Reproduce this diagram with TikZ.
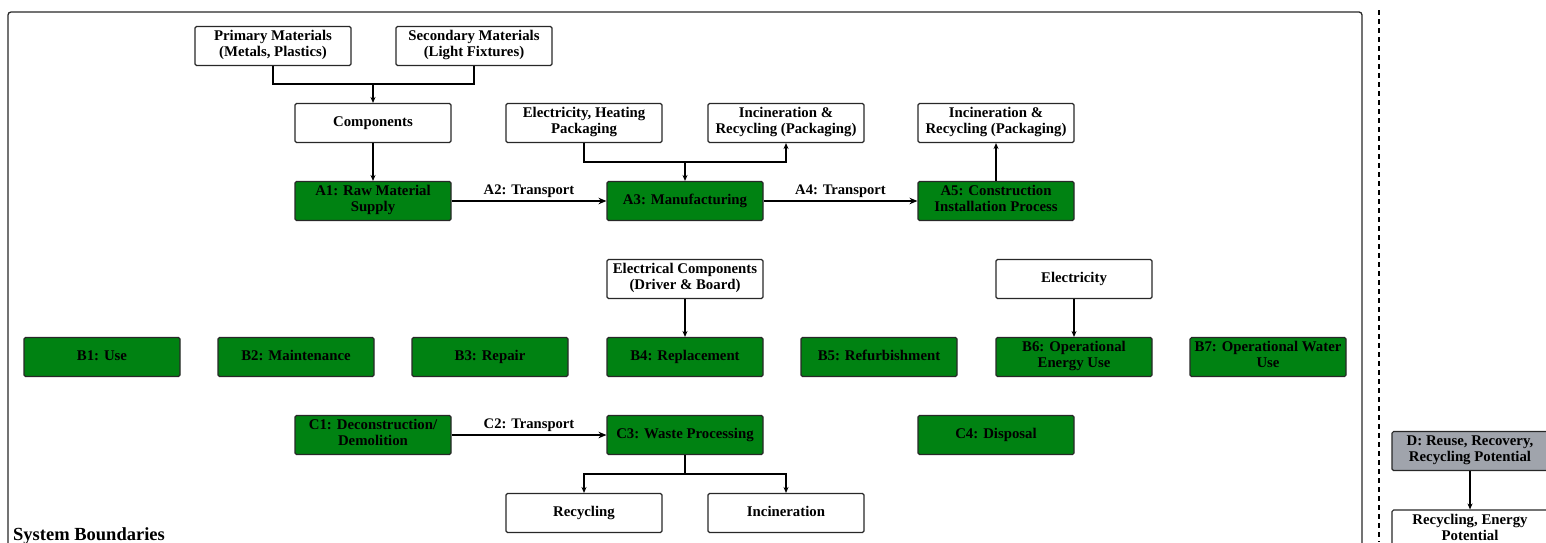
\documentclass[tikz,border=0pt]{standalone}
\usepackage{fontspec}
\setmainfont{Liberation Serif}
\usetikzlibrary{arrows.meta}
\definecolor{boxgreen}{RGB}{0,130,18}
\definecolor{boxgray}{RGB}{160,164,172}
\definecolor{edge}{RGB}{40,40,40}
\tikzset{
  base/.style={draw=edge, line width=1.1pt, rounded corners=1.5pt, minimum width=156pt, minimum height=39pt,
    align=center, inner sep=1pt, font=\fontsize{14.8}{16.5}\selectfont\bfseries,
    execute at begin node=\strut, execute at end node=\strut},
  whitebox/.style={base, fill=white},
  greenbox/.style={base, fill=boxgreen},
  graybox/.style={base, fill=boxgray},
  conn/.style={draw=black, line width=1.4pt},
  arr/.style={conn, -{Stealth[length=6pt,width=5pt]}},
  thickarr/.style={draw=black, line width=2.2pt, -{Stealth[length=8pt,width=6.5pt]}},
  lbl/.style={font=\fontsize{14.6}{16}\selectfont\bfseries, inner sep=1pt}
}
\begin{document}
\begin{tikzpicture}[x=1pt,y=-1pt]
\useasboundingbox (0,0) rectangle (1546,542);
\clip (0,0) rectangle (1546,542);
\fill[white] (0,0) rectangle (1546,542);
% system boundary
\draw[draw=edge, line width=1.3pt, rounded corners=3pt] (8,12) rectangle (1362,570);
\node[anchor=base west, inner sep=0pt, font=\fontsize{18.5}{20}\selectfont\bfseries] (sb) at (13,540) {System Boundaries};
\coordinate (dt) at (1379,10);
\coordinate (db) at (1379,542);
\draw[line width=1.2pt, dash pattern=on 5pt off 4pt] (dt) -- (db);

% A row
\node[whitebox] (prim) at (273,46) {Primary Materials\\(Metals, Plastics)};
\node[whitebox] (sec) at (474,46) {Secondary Materials\\(Light Fixtures)};
\node[whitebox] (comp) at (373,123) {Components};
\node[greenbox] (a1) at (373,201) {A1: Raw Material\\Supply};
\node[whitebox] (elec) at (584,123) {Electricity, Heating\\Packaging};
\node[whitebox] (inc1) at (786,123) {Incineration \&\\Recycling (Packaging)};
\node[greenbox] (a3) at (685,201) {A3: Manufacturing};
\node[greenbox] (a5) at (996,201) {A5: Construction\\Installation Process};
\node[whitebox] (inc2) at (996,123) {Incineration \&\\Recycling (Packaging)};

\coordinate (m1) at (373,84);
\draw[conn] (prim.south) |- (m1) -| (sec.south);
\draw[arr] (m1) -- (comp.north);
\draw[arr] (comp) -- (a1);
\draw[thickarr] (a1) -- node[lbl, above=1pt] {A2: Transport} (a3);
\draw[thickarr] (a3) -- node[lbl, above=1pt] {A4: Transport} (a5);
\coordinate (m2) at (685,162);
\draw[conn] (elec.south) |- (m2);
\draw[arr] (m2) -| (inc1.south);
\draw[arr] (m2) -- (a3.north);
\draw[arr] (a5) -- (inc2);

% B row
\node[whitebox] (ecomp) at (685,279) {Electrical Components\\(Driver \& Board)};
\node[whitebox] (elty) at (1074,279) {Electricity};
\node[greenbox] (b1) at (102,357) {B1: Use};
\node[greenbox] (b2) at (296,357) {B2: Maintenance};
\node[greenbox] (b3) at (490,357) {B3: Repair};
\node[greenbox] (b4) at (685,357) {B4: Replacement};
\node[greenbox] (b5) at (879,357) {B5: Refurbishment};
\node[greenbox] (b6) at (1074,357) {B6: Operational\\Energy Use};
\node[greenbox] (b7) at (1268,357) {B7: Operational Water\\Use};
\draw[arr] (ecomp) -- (b4);
\draw[arr] (elty) -- (b6);

% C row
\node[greenbox] (c1) at (373,435) {C1: Deconstruction/\\Demolition};
\node[greenbox] (c3) at (685,435) {C3: Waste Processing};
\node[greenbox] (c4) at (996,435) {C4: Disposal};
\node[whitebox] (rec) at (584,513) {Recycling};
\node[whitebox] (inc3) at (786,513) {Incineration};
\draw[thickarr] (c1) -- node[lbl, above=1pt] {C2: Transport} (c3);
\coordinate (m3) at (685,474);
\draw[conn] (c3.south) -- (m3);
\draw[arr] (m3) -| (rec.north);
\draw[arr] (m3) -| (inc3.north);

% D
\node[graybox] (d) at (1470,451) {D: Reuse, Recovery,\\Recycling Potential};
\node[whitebox, minimum height=40pt] (rep) at (1470,530) {Recycling, Energy\\Potential};
\draw[arr] (d) -- (rep);
\end{tikzpicture}
\end{document}
